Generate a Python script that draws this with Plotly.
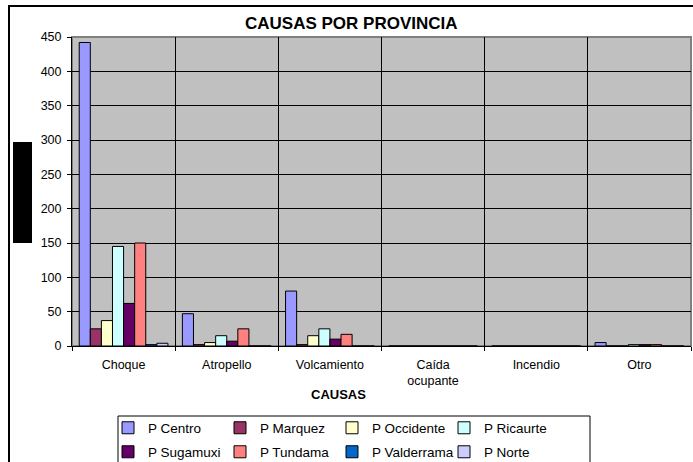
import plotly.graph_objects as go

categories = ["Choque", "Atropello", "Volcamiento", "Caída<br>ocupante", "Incendio", "Otro"]
series_names = ["P Centro", "P Marquez", "P Occidente", "P Ricaurte",
                "P Sugamuxi", "P Tundama", "P Valderrama", "P Norte"]
p_centro = [442, 47, 80, 0, 0, 5]
p_marquez = [25, 2, 2, 0, 0, 0]
p_occidente = [37, 5, 15, 0, 0, 0]
p_ricaurte = [145, 15, 25, 0, 0, 2]
p_sugamuxi = [62, 7, 10, 0, 0, 2]
p_tundama = [150, 25, 17, 0, 0, 2]
p_valderrama = [2, 0, 0, 0, 0, 0]
p_norte = [4, 0, 0, 0, 0, 0]
y_ticks = [0, 50, 100, 150, 200, 250, 300, 350, 400, 450]

series_values = [p_centro, p_marquez, p_occidente, p_ricaurte,
                 p_sugamuxi, p_tundama, p_valderrama, p_norte]
colors = ["#9999FF", "#993366", "#FFFFCC", "#CCFFFF",
          "#660066", "#FF8080", "#0066CC", "#CCCCFF"]

FONT = "Liberation Sans, Arial, sans-serif"

fig = go.Figure()
for i, (name, vals, col) in enumerate(zip(series_names, series_values, colors)):
    fig.add_trace(go.Bar(
        name=name, x=categories, y=vals,
        marker=dict(color=col, line=dict(color="black", width=1)),
        legend="legend" if i < 4 else "legend2",
    ))

W, H = 693, 462
L, R, T, B = 72, 2, 37, 116
pw = W - L - R
ph = H - T - B


def px2x(px):
    return (px - L) / pw


def py2y(py):
    return (H - B - py) / ph


leg_common = dict(
    orientation="h",
    xref="container", yref="container",
    xanchor="left", yanchor="middle",
    entrywidth=67, entrywidthmode="pixels",
    bgcolor="rgba(0,0,0,0)", borderwidth=0,
    font=dict(family=FONT, size=13.5, color="black"),
    traceorder="normal",
)

fig.update_layout(
    width=W, height=H,
    margin=dict(l=L, r=R, t=T, b=B),
    paper_bgcolor="white",
    plot_bgcolor="#C0C0C0",
    barmode="group",
    bargap=0.14,
    bargroupgap=0,
    font=dict(family=FONT, size=12, color="black"),
    showlegend=True,
    legend=dict(leg_common, x=108 / W, y=1 - 428 / H),
    legend2=dict(leg_common, x=108 / W, y=1 - 452 / H),
    xaxis=dict(
        type="category",
        tickson="boundaries",
        ticks="outside", ticklen=4, tickcolor="black",
        showgrid=True, gridcolor="black", gridwidth=1,
        showline=True, linecolor="black", linewidth=1,
        tickfont=dict(family=FONT, size=12.5, color="black"),
        ticklabelstandoff=7,
        fixedrange=True,
    ),
    yaxis=dict(
        range=[0, 450],
        tickvals=y_ticks,
        ticks="outside", ticklen=4, tickcolor="black",
        showgrid=True, gridcolor="black", gridwidth=1,
        zeroline=False,
        showline=True, linecolor="black", linewidth=1,
        tickfont=dict(family=FONT, size=12.5, color="black"),
        ticklabelstandoff=3,
        fixedrange=True,
    ),
    shapes=[
        # plot area border (top/right gray)
        dict(type="rect", xref="paper", yref="paper", x0=0, x1=1, y0=0, y1=1,
             line=dict(color="#808080", width=2), layer="below"),
        # chart outer border
        dict(type="rect", xref="paper", yref="paper",
             x0=px2x(9), x1=px2x(720), y0=py2y(490), y1=py2y(6),
             line=dict(color="black", width=2)),
        # redacted axis title block
        dict(type="rect", xref="paper", yref="paper",
             x0=px2x(13), x1=px2x(32), y0=py2y(243), y1=py2y(142),
             fillcolor="black", line=dict(width=0)),
        # legend box
        dict(type="rect", xref="paper", yref="paper",
             x0=px2x(118), x1=px2x(590), y0=py2y(480), y1=py2y(416),
             fillcolor="white", line=dict(color="black", width=1)),
    ],
    annotations=[
        dict(text="<b>CAUSAS POR PROVINCIA</b>", xref="paper", yref="paper",
             x=px2x(351), y=py2y(24), xanchor="center", yanchor="middle",
             showarrow=False,
             font=dict(family=FONT, size=17, color="black")),
        dict(text="<b>CAUSAS</b>", xref="paper", yref="paper",
             x=px2x(338), y=py2y(394), xanchor="center", yanchor="middle",
             showarrow=False,
             font=dict(family=FONT, size=13, color="black")),
    ],
)

fig.write_html("out.html", config={"displayModeBar": False},
               post_script="document.body.style.margin='0px';")
